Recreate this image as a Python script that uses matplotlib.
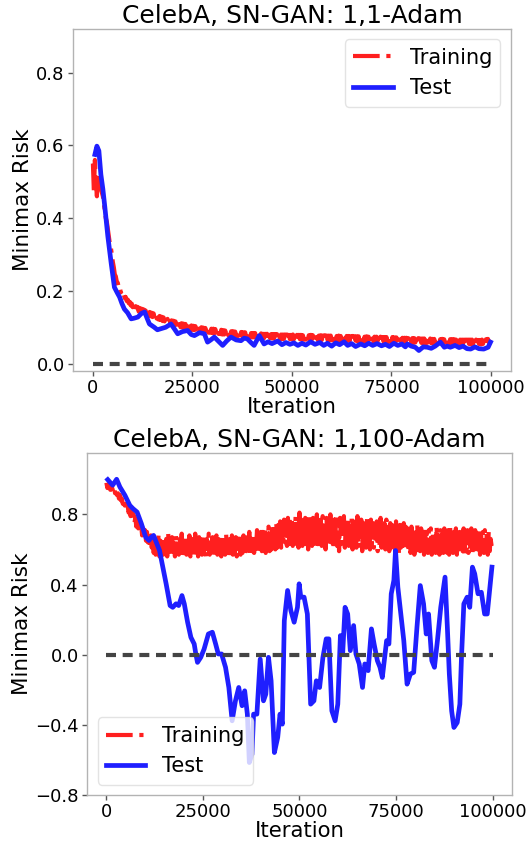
import numpy as np
import matplotlib
matplotlib.use("Agg")
import matplotlib.pyplot as plt

plt.rcParams['font.family'] = ['DejaVu Sans']
plt.rcParams['font.size'] = 15

# ---------------- data: top panel (1,1-Adam) ----------------
top_title = "CelebA, SN-GAN: 1,1-Adam"
train_iter = np.arange(0, 100000, 250)
top_train = [
    0.55, 0.47, 0.56, 0.50, 0.46, 0.52, 0.48, 0.50, 0.48, 0.47, 0.46, 0.44, 0.42, 0.40, 0.39, 0.37, 0.35, 0.33, 0.32, 0.30, 0.28,
    0.265, 0.245, 0.24, 0.225, 0.222, 0.208, 0.21, 0.196, 0.2, 0.188, 0.19, 0.18, 0.183, 0.172, 0.176, 0.166, 0.17, 0.16, 0.165, 0.155,
    0.161, 0.148, 0.158, 0.146, 0.156, 0.143, 0.153, 0.141, 0.151, 0.139, 0.149, 0.137, 0.146, 0.135, 0.145, 0.132, 0.142, 0.13, 0.14, 0.128,
    0.138, 0.125, 0.136, 0.124, 0.134, 0.121, 0.131, 0.12, 0.129, 0.117, 0.127, 0.116, 0.125, 0.113, 0.123, 0.112, 0.121, 0.109, 0.119, 0.107,
    0.118, 0.105, 0.116, 0.104, 0.114, 0.102, 0.113, 0.1, 0.111, 0.099, 0.11, 0.097, 0.109, 0.096, 0.107, 0.095, 0.106, 0.093, 0.105, 0.093,
    0.104, 0.092, 0.103, 0.091, 0.102, 0.09, 0.101, 0.089, 0.1, 0.088, 0.099, 0.087, 0.098, 0.086, 0.097, 0.085, 0.096, 0.085, 0.096, 0.084,
    0.096, 0.083, 0.095, 0.083, 0.094, 0.082, 0.093, 0.081, 0.093, 0.08, 0.092, 0.08, 0.091, 0.079, 0.09, 0.078, 0.09, 0.078, 0.089, 0.077,
    0.089, 0.077, 0.088, 0.076, 0.088, 0.076, 0.087, 0.075, 0.087, 0.075, 0.086, 0.074, 0.086, 0.073, 0.085, 0.073, 0.085, 0.072, 0.084, 0.072,
    0.084, 0.072, 0.084, 0.071, 0.083, 0.071, 0.083, 0.071, 0.083, 0.07, 0.082, 0.07, 0.082, 0.07, 0.082, 0.069, 0.082, 0.07, 0.081, 0.069,
    0.081, 0.069, 0.081, 0.069, 0.081, 0.068, 0.08, 0.068, 0.08, 0.068, 0.08, 0.068, 0.08, 0.067, 0.08, 0.068, 0.079, 0.067, 0.079, 0.067,
    0.08, 0.067, 0.079, 0.067, 0.079, 0.066, 0.079, 0.067, 0.079, 0.066, 0.078, 0.066, 0.079, 0.066, 0.078, 0.066, 0.078, 0.065, 0.079, 0.066,
    0.078, 0.065, 0.078, 0.066, 0.078, 0.065, 0.077, 0.065, 0.078, 0.065, 0.077, 0.064, 0.078, 0.065, 0.077, 0.064, 0.077, 0.065, 0.077, 0.064,
    0.077, 0.064, 0.077, 0.064, 0.076, 0.064, 0.077, 0.063, 0.076, 0.064, 0.076, 0.063, 0.076, 0.063, 0.076, 0.063, 0.076, 0.063, 0.075, 0.063,
    0.076, 0.062, 0.075, 0.063, 0.075, 0.062, 0.075, 0.062, 0.075, 0.062, 0.075, 0.062, 0.074, 0.062, 0.075, 0.061, 0.074, 0.062, 0.074, 0.061,
    0.074, 0.061, 0.074, 0.061, 0.074, 0.061, 0.073, 0.061, 0.074, 0.06, 0.073, 0.061, 0.073, 0.06, 0.073, 0.06, 0.073, 0.06, 0.072, 0.06,
    0.073, 0.06, 0.072, 0.059, 0.072, 0.06, 0.072, 0.059, 0.071, 0.059, 0.071, 0.059, 0.071, 0.058, 0.071, 0.058, 0.07, 0.058, 0.07, 0.058,
    0.07, 0.057, 0.07, 0.058, 0.069, 0.057, 0.07, 0.057, 0.069, 0.057, 0.069, 0.057, 0.069, 0.056, 0.069, 0.057, 0.068, 0.056, 0.069, 0.056,
    0.068, 0.056, 0.068, 0.056, 0.068, 0.055, 0.068, 0.056, 0.067, 0.055, 0.068, 0.055, 0.067, 0.055, 0.067, 0.055, 0.067, 0.055, 0.067, 0.054,
    0.067, 0.054, 0.067, 0.055, 0.066, 0.054, 0.067, 0.054, 0.066, 0.054, 0.066, 0.054, 0.066, 0.054, 0.066, 0.053, 0.066, 0.054, 0.066, 0.053,
    0.066, 0.053, 0.065, 0.054, 0.066, 0.053, 0.065, 0.054, 0.065, 0.053, 0.066, 0.054, 0.066, 0.055, 0.067, 0.056, 0.068, 0.058, 0.066,
]
top_test_iter = [
    500, 1000, 1500, 2000, 2500, 3000, 3750, 4600, 5400, 6100, 6700, 7300, 7900, 8700, 9600,
    10400, 11300, 12200, 13000, 13600, 14200, 15400, 16200, 17100, 18300, 19600, 20500, 21300,
    22500, 23800, 24700, 25500, 26800, 28000, 28800, 29600, 30500, 31500, 32600, 33600, 34700,
    36000, 37200, 38000, 38800, 39700, 40500, 41800, 43000, 44000, 45000, 46400, 47500, 48500,
    49500, 50500, 51500, 52500, 53500, 54700, 55800, 57000, 58000, 58900, 60000, 61000, 62000,
    63100, 64000, 65000, 66000, 67300, 68300, 69300, 70300, 71400, 72500, 73500, 74500, 75600,
    76600, 77600, 78500, 79000, 80000, 81000, 81900, 83000, 84000, 85000, 86000, 87300, 88300,
    89000, 89800, 91000, 92000, 93000, 94000, 94900, 96000, 97000, 98200, 99300, 99900,
]
top_test = [
    0.575, 0.598, 0.585, 0.52, 0.48, 0.43, 0.35, 0.275, 0.21, 0.195, 0.183, 0.165, 0.15, 0.14, 0.123,
    0.125, 0.128, 0.138, 0.142, 0.125, 0.109, 0.10, 0.093, 0.096, 0.10, 0.109, 0.095, 0.082,
    0.088, 0.091, 0.08, 0.077, 0.085, 0.082, 0.059, 0.065, 0.073, 0.062, 0.05, 0.062, 0.073,
    0.065, 0.063, 0.07, 0.068, 0.058, 0.050, 0.077, 0.054, 0.060, 0.055, 0.062, 0.052, 0.058,
    0.053, 0.057, 0.050, 0.056, 0.051, 0.060, 0.053, 0.058, 0.050, 0.056, 0.048, 0.057, 0.052,
    0.060, 0.050, 0.055, 0.047, 0.054, 0.049, 0.056, 0.050, 0.055, 0.049, 0.053, 0.047, 0.056,
    0.050, 0.054, 0.046, 0.054, 0.048, 0.045, 0.036, 0.046, 0.045, 0.042, 0.048, 0.059, 0.045,
    0.048, 0.045, 0.050, 0.044, 0.048, 0.041, 0.040, 0.046, 0.041, 0.040, 0.045, 0.059,
]

# ---------------- data: bottom panel (1,100-Adam) ----------------
bot_title = "CelebA, SN-GAN: 1,100-Adam"
bot_train = [
    0.98, 0.95, 0.97, 0.96, 0.94, 0.97, 0.95, 0.93, 0.95, 0.92, 0.94, 0.91, 0.92, 0.89, 0.91, 0.88, 0.89, 0.86, 0.88, 0.85,
    0.86, 0.83, 0.85, 0.81, 0.83, 0.79, 0.81, 0.77, 0.80, 0.75, 0.78, 0.73, 0.76, 0.72, 0.75, 0.70, 0.74, 0.68, 0.72, 0.67,
    0.71, 0.65, 0.70, 0.64, 0.69, 0.62, 0.68, 0.61, 0.67,
    0.58, 0.66, 0.57, 0.64, 0.59, 0.68, 0.56, 0.65, 0.60, 0.67, 0.57, 0.63, 0.58, 0.66, 0.56, 0.69, 0.59, 0.64, 0.57, 0.67,
    0.58, 0.65, 0.56, 0.68, 0.60, 0.63, 0.57, 0.66, 0.59, 0.69, 0.56, 0.64, 0.58, 0.67, 0.57, 0.65, 0.60, 0.68, 0.56, 0.64,
    0.59, 0.66, 0.57, 0.69, 0.58, 0.63, 0.56, 0.67, 0.59, 0.65, 0.57, 0.68, 0.58, 0.64, 0.56, 0.66, 0.60, 0.69, 0.57, 0.65,
    0.58, 0.67, 0.56, 0.64, 0.59, 0.68, 0.57, 0.66, 0.58, 0.63, 0.56, 0.67, 0.59, 0.65, 0.57, 0.69, 0.58, 0.64, 0.56, 0.66,
    0.59, 0.68, 0.57, 0.65, 0.58, 0.67, 0.56, 0.64, 0.60, 0.69, 0.57, 0.66, 0.58, 0.68, 0.57, 0.65, 0.59, 0.67, 0.58, 0.70,
    0.57, 0.66, 0.59, 0.69, 0.58, 0.67, 0.60, 0.71, 0.58, 0.68, 0.59, 0.70,
    0.59, 0.70, 0.60, 0.72, 0.58, 0.71, 0.61, 0.73, 0.59, 0.72, 0.60, 0.74, 0.62, 0.73, 0.60, 0.75, 0.61, 0.74, 0.63, 0.76,
    0.61, 0.75, 0.62, 0.77, 0.64, 0.76, 0.62, 0.78, 0.63, 0.77,
    0.64, 0.78, 0.62, 0.76, 0.65, 0.79, 0.63, 0.75, 0.61, 0.81, 0.64, 0.77, 0.62, 0.74, 0.65, 0.78, 0.63, 0.76, 0.60, 0.79,
    0.64, 0.75, 0.62, 0.78, 0.65, 0.76, 0.61, 0.80, 0.63, 0.74, 0.64, 0.77, 0.62, 0.79, 0.65, 0.75, 0.60, 0.78, 0.63, 0.76,
    0.62, 0.80, 0.64, 0.74, 0.61, 0.77, 0.65, 0.79, 0.62, 0.75, 0.59, 0.78, 0.63, 0.76, 0.64, 0.79, 0.61, 0.74, 0.63, 0.77,
    0.62, 0.75, 0.64, 0.78, 0.60, 0.76, 0.63, 0.74, 0.61, 0.79, 0.64, 0.75, 0.62, 0.77, 0.59, 0.73, 0.63, 0.76, 0.61, 0.78,
    0.62, 0.74, 0.60, 0.77, 0.63, 0.75, 0.61, 0.73, 0.64, 0.76, 0.59, 0.74, 0.62, 0.78, 0.61, 0.73, 0.63, 0.75, 0.60, 0.77,
    0.62, 0.73, 0.59, 0.75, 0.61, 0.74, 0.63, 0.72, 0.60, 0.76, 0.62, 0.73, 0.58, 0.74, 0.61, 0.72, 0.62, 0.75, 0.60, 0.73,
    0.61, 0.72, 0.59, 0.70, 0.58, 0.73, 0.61, 0.69, 0.57, 0.71, 0.60, 0.74, 0.58, 0.70, 0.59, 0.72, 0.61, 0.69, 0.57, 0.73,
    0.60, 0.70, 0.58, 0.71, 0.59, 0.72, 0.57, 0.70, 0.60, 0.69, 0.58, 0.73, 0.59, 0.70, 0.57, 0.71, 0.60, 0.69, 0.58, 0.72,
    0.59, 0.70, 0.58, 0.71, 0.57, 0.73, 0.60, 0.69, 0.58, 0.70, 0.59, 0.72, 0.57, 0.71, 0.60, 0.70, 0.58, 0.69, 0.59, 0.72,
    0.57, 0.70, 0.59, 0.71, 0.58, 0.69, 0.60, 0.72, 0.57, 0.70, 0.59, 0.71, 0.58, 0.69, 0.60, 0.71, 0.57, 0.70, 0.59, 0.70,
    0.58, 0.71, 0.60, 0.69, 0.57, 0.70, 0.59, 0.66, 0.62,
]
bot_test_iter = [
    340, 1620, 2650, 3500, 4790, 6070, 6920, 7950, 9060, 10170, 11030, 11620, 12220, 12910, 13760,
    14620, 15470, 16500, 17180, 18030, 18720, 19570, 20170, 21030, 21880, 22740, 23160, 23590,
    24440, 25300, 26410, 27440, 28290, 28970, 29830, 30850, 31710, 32560, 33420, 34270, 35130,
    35810, 36500, 37010, 37690, 38120, 38970, 39830, 40680, 41280, 41970, 42650, 43500, 44360,
    44960, 45560, 46070, 46920, 47770, 48620, 49480, 49910, 50340, 51190, 52040, 52890, 53740,
    54360, 55210, 56070, 56920, 57610, 58380, 59230, 59920, 60600, 61200, 61800, 62480, 63160,
    64020, 64620, 65470, 66320, 66920, 67780, 68630, 69320, 70170, 70850, 71450, 72050, 72560,
    73160, 73760, 74440, 74870, 75470, 76150, 77010, 77860, 78720, 79570, 80420, 81280, 82130,
    82820, 83420, 84270, 84950, 85720, 86580, 87690, 88290, 88800, 89400, 89990, 90840, 91530,
    91950, 92560, 93410, 94090, 94780, 95380, 96230, 97090, 97940, 98620, 99220, 99830,
]
bot_test = [
    0.998, 0.966, 1.0, 0.956, 0.909, 0.851, 0.832, 0.813, 0.747, 0.67, 0.651, 0.67, 0.68, 0.642, 0.594,
    0.499, 0.404, 0.28, 0.27, 0.29, 0.28, 0.337, 0.29, 0.185, 0.099, 0.061, 0.004, -0.044,
    -0.015, 0.032, 0.118, 0.128, 0.061, 0.004, 0.004, -0.072, -0.187, -0.377, -0.263, -0.187, -0.291,
    -0.206, -0.339, -0.615, -0.568, -0.339, -0.339, -0.025, -0.263, -0.225, -0.015, -0.149, -0.558, -0.472,
    -0.339, -0.396, 0.194, 0.366, 0.251, 0.185, 0.27, 0.404, 0.328, 0.328, 0.232, -0.282, -0.263,
    -0.149, -0.187, -0.015, 0.09, 0.09, -0.32, -0.377, -0.282, 0.109, 0.013, 0.27, 0.232, 0.023,
    0.166, 0.004, -0.053, -0.187, -0.053, -0.091, 0.147, 0.061, -0.034, -0.072, -0.13, -0.015, 0.08,
    0.061, 0.347, 0.423, 0.594, 0.385, 0.251, 0.08, -0.168, -0.11, -0.101, 0.156, 0.394, 0.29,
    0.118, 0.232, -0.034, -0.072, 0.08, 0.27, 0.442, 0.156, -0.11, -0.32, -0.415, -0.387, -0.282,
    -0.015, 0.29, 0.328, 0.27, 0.499, 0.461, 0.347, 0.356, 0.232, 0.232, 0.366, 0.499,
]

x_ticks = [0, 25000, 50000, 75000, 100000]
top_yticks = [0.0, 0.2, 0.4, 0.6, 0.8]
bot_yticks = [-0.8, -0.4, 0.0, 0.4, 0.8]
ref_x = [0, 100000]
ref_y = [0, 0]

RED = '#ff1f1f'
BLUE = '#1f1fff'
GREY = '#444444'
SPINE = '#b3b3b3'

fig = plt.figure(figsize=(5.31, 8.41), dpi=100)
ax1 = fig.add_axes([0.1375, 0.559, 0.8245, 0.4065])
ax2 = fig.add_axes([0.164, 0.0547, 0.800, 0.4067])


def style(ax):
    for s in ax.spines.values():
        s.set_color(SPINE)
        s.set_linewidth(1.0)
    ax.tick_params(axis='both', which='major', length=3.5, width=1.0, color='#555555',
                   labelsize=13, pad=2.5)
    ax.set_xticks(x_ticks)
    ax.set_xlim(-5000, 105000)
    ax.set_xlabel('Iteration', fontsize=15.3, labelpad=0)
    ax.set_ylabel('Minimax Risk', fontsize=15.5, labelpad=2.5)


leg_kw = dict(fontsize=15, handlelength=1.9, borderpad=0.4, labelspacing=0.5,
              handletextpad=0.8, framealpha=0.8, edgecolor='#dddddd')

# top panel
ax1.plot(train_iter, top_train, color=RED, lw=3, ls='-.', label='Training')
ax1.plot(top_test_iter, top_test, color=BLUE, lw=3.4, ls='-', label='Test')
ax1.plot(ref_x, ref_y, color=GREY, lw=3, ls=(0, (2.4, 1.6)))
style(ax1)
ax1.set_ylim(-0.02, 0.92)
ax1.set_yticks(top_yticks)
ax1.set_yticklabels([f'{v:.1f}' for v in top_yticks])
ax1.set_title(top_title, fontsize=18, pad=4)
ax1.legend(loc='upper right', **leg_kw)

# bottom panel
ax2.plot(train_iter, bot_train, color=RED, lw=3, ls='-.', label='Training')
ax2.plot(bot_test_iter, bot_test, color=BLUE, lw=3.4, ls='-', label='Test')
ax2.plot(ref_x, ref_y, color=GREY, lw=3, ls=(0, (2.4, 1.6)))
style(ax2)
ax2.set_ylim(-0.8, 1.15)
ax2.set_yticks(bot_yticks)
ax2.set_yticklabels([f'{v:.1f}'.replace('-', '\u2212') for v in bot_yticks])
ax2.set_title(bot_title, fontsize=18, pad=4)
ax2.legend(loc='lower left', **leg_kw)

fig.savefig('out.png', dpi=100)
